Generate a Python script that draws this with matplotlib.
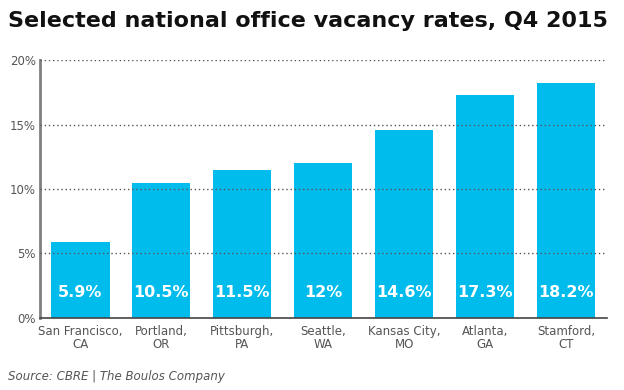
import matplotlib.pyplot as plt

cities = ['San Francisco,\nCA', 'Portland,\nOR', 'Pittsburgh,\nPA', 'Seattle,\nWA',
          'Kansas City,\nMO', 'Atlanta,\nGA', 'Stamford,\nCT']
rates = [5.9, 10.5, 11.5, 12.0, 14.6, 17.3, 18.2]
rate_labels = ['5.9%', '10.5%', '11.5%', '12%', '14.6%', '17.3%', '18.2%']
y_ticks = [0, 5, 10, 15, 20]

fig = plt.figure(figsize=(6.24, 3.90), dpi=100)
ax = fig.add_axes([0.064, 0.185, 0.908, 0.661])

x = range(len(cities))
ax.bar(x, rates, width=0.72, color='#00bcec', zorder=2)
for i, lab in enumerate(rate_labels):
    ax.text(i, 1.95, lab, ha='center', va='center', color='white',
            fontsize=11.5, fontweight='bold', zorder=3)

# dotted gridlines sit on top of the bars
for t in y_ticks[1:]:
    ax.axhline(t, linestyle=(0, (1, 2)), color='#555555', linewidth=1.0, zorder=4)

ax.set_xlim(-0.5, 6.5)
ax.set_ylim(0, 20)
ax.set_yticks(y_ticks)
ax.set_yticklabels([f'{t}%' for t in y_ticks], fontsize=8.5, color='#555555')
ax.set_xticks(list(x))
ax.set_xticklabels(cities, fontsize=8.5, color='#555555', linespacing=1.05)
ax.tick_params(length=0, pad=5)
ax.tick_params(axis='y', pad=3)
for s in ['top', 'right']:
    ax.spines[s].set_visible(False)
ax.spines['left'].set_color('#808080')
ax.spines['left'].set_linewidth(2)
ax.spines['bottom'].set_color('#444444')
ax.spines['bottom'].set_linewidth(1.2)
ax.spines['bottom'].set_zorder(5)

fig.text(0.013, 0.945, 'Selected national office vacancy rates, Q4 2015',
         fontsize=16, fontweight='bold', color='#111111', va='center')
fig.text(0.013, 0.035, 'Source: CBRE | The Boulos Company', fontsize=8.5,
         style='italic', color='#555555', va='center')

fig.savefig('out.png', dpi=100)
